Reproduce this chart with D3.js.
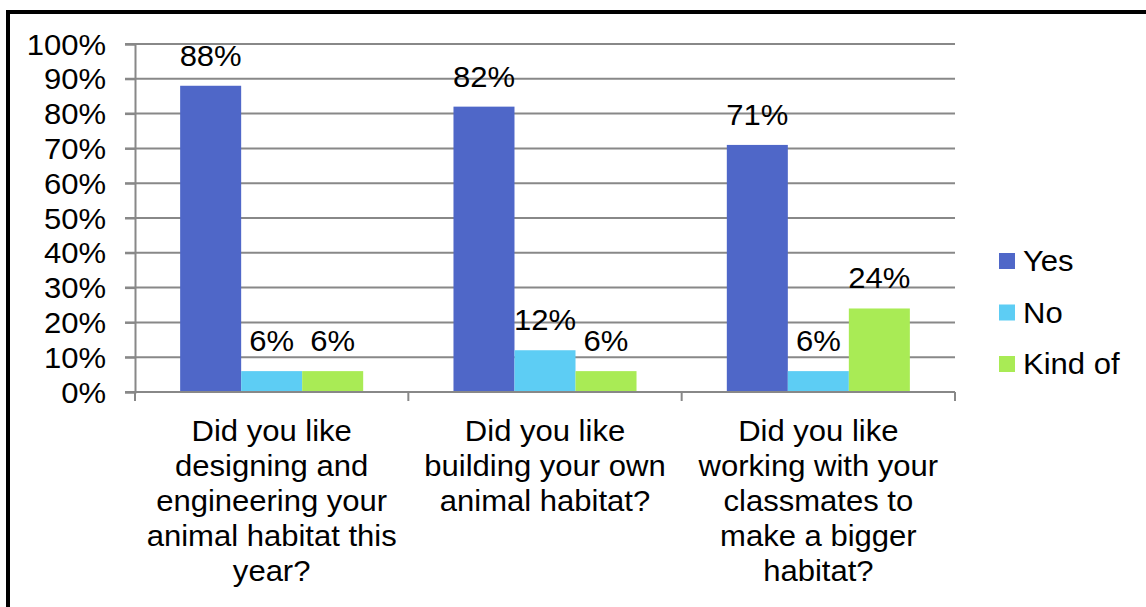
<!DOCTYPE html>
<html>
<head>
<meta charset="utf-8">
<script src="https://cdn.jsdelivr.net/npm/d3@7"></script>
<style>
  html, body { margin: 0; padding: 0; background: #fff; }
  svg { display: block; }
  text { font-family: "Liberation Sans", Arial, sans-serif; fill: #000; }
</style>
</head>
<body>
<svg id="chart" width="1146" height="607"></svg>
<script>
// Survey questions (line breaks follow the axis label wrapping)
const categories = [
  "Did you like\ndesigning and\nengineering your\nanimal habitat this\nyear?",
  "Did you like\nbuilding your own\nanimal habitat?",
  "Did you like\nworking with your\nclassmates to\nmake a bigger\nhabitat?"
];
const seriesNames = ["Yes", "No", "Kind of"];
const yesValues = [0.88, 0.82, 0.71];
const noValues = [0.06, 0.12, 0.06];
const kindOfValues = [0.06, 0.06, 0.24];
const yTicks = [0, 0.1, 0.2, 0.3, 0.4, 0.5, 0.6, 0.7, 0.8, 0.9, 1.0];
const colors = ["#4F67C8", "#5DCDF4", "#A9EB55"];

const seriesValues = [yesValues, noValues, kindOfValues];
const svg = d3.select("#chart");
const fontSize = 29;
const stretch = 1.07;

// Outer frame
svg.append("rect")
  .attr("x", 8).attr("y", 12)
  .attr("width", 1400).attr("height", 1000)
  .attr("fill", "none").attr("stroke", "#000").attr("stroke-width", 4);

const x = d3.scaleBand().domain(d3.range(categories.length)).range([135, 955]);
const xs = d3.scaleBand().domain(seriesNames).range([0, x.bandwidth()])
  .paddingInner(0).paddingOuter(0.74);
const y = d3.scaleLinear().domain([0, 1]).range([392, 44]);

// Gridlines
svg.append("g").selectAll("line").data(yTicks).join("line")
  .attr("x1", 125).attr("x2", 955)
  .attr("y1", d => y(d)).attr("y2", d => y(d))
  .attr("stroke", "#888").attr("stroke-width", 2);

// Y axis
const yAxis = svg.append("g").attr("transform", "translate(135,0)")
  .call(d3.axisLeft(y).tickValues(yTicks).tickSize(10).tickPadding(0)
    .tickFormat(d3.format(".0%")));
yAxis.select(".domain").attr("stroke", "#888").attr("stroke-width", 2);
yAxis.selectAll(".tick line").attr("stroke", "#888").attr("stroke-width", 2);
yAxis.selectAll(".tick text")
  .attr("x", null).attr("dy", null)
  .attr("font-size", fontSize)
  .attr("font-family", "Liberation Sans, Arial, sans-serif")
  .attr("dominant-baseline", "central")
  .attr("transform", `translate(-29,0) scale(${stretch},1)`)
  .attr("fill", "#000");

// Bars
const groups = svg.append("g").selectAll("g").data(categories).join("g")
  .attr("transform", (d, i) => `translate(${x(i)},0)`);

groups.each(function(cat, ci) {
  const g = d3.select(this);
  seriesNames.forEach((s, si) => {
    const v = seriesValues[si][ci];
    g.append("rect")
      .attr("x", xs(s)).attr("width", xs.bandwidth())
      .attr("y", y(v)).attr("height", y(0) - y(v))
      .attr("fill", colors[si]);
    g.append("text")
      .attr("transform", `translate(${xs(s) + xs.bandwidth() / 2},${y(v) - 20}) scale(${stretch},1)`)
      .attr("text-anchor", "middle")
      .attr("font-size", fontSize)
      .text(d3.format(".0%")(v));
  });
});

// X axis
const xAxis = svg.append("g").attr("transform", `translate(0,${y(0)})`);
xAxis.append("line").attr("x1", 135).attr("x2", 955)
  .attr("stroke", "#888").attr("stroke-width", 2);
xAxis.selectAll("line.tick").data(d3.range(categories.length + 1)).join("line")
  .attr("class", "tick")
  .attr("x1", d => 135 + d * x.bandwidth()).attr("x2", d => 135 + d * x.bandwidth())
  .attr("y1", 0).attr("y2", 9)
  .attr("stroke", "#888").attr("stroke-width", 2);

// Category labels
categories.forEach((c, i) => {
  const cx = x(i) + x.bandwidth() / 2;
  const t = svg.append("text")
    .attr("transform", `translate(${cx},441) scale(${stretch},1)`)
    .attr("text-anchor", "middle")
    .attr("font-size", fontSize);
  c.split("\n").forEach((line, li) => {
    t.append("tspan").attr("x", 0).attr("y", li * 35).text(line);
  });
});

// Legend
const legend = svg.append("g").selectAll("g").data(seriesNames).join("g")
  .attr("transform", (d, i) => `translate(999,${261 + i * 51.5})`);
legend.append("rect")
  .attr("x", 0).attr("y", -8).attr("width", 16).attr("height", 16)
  .attr("fill", (d, i) => colors[i]);
legend.append("text")
  .attr("transform", `translate(24,0) scale(${stretch},1)`)
  .attr("dominant-baseline", "central")
  .attr("font-size", fontSize)
  .text(d => d);
</script>
</body>
</html>
